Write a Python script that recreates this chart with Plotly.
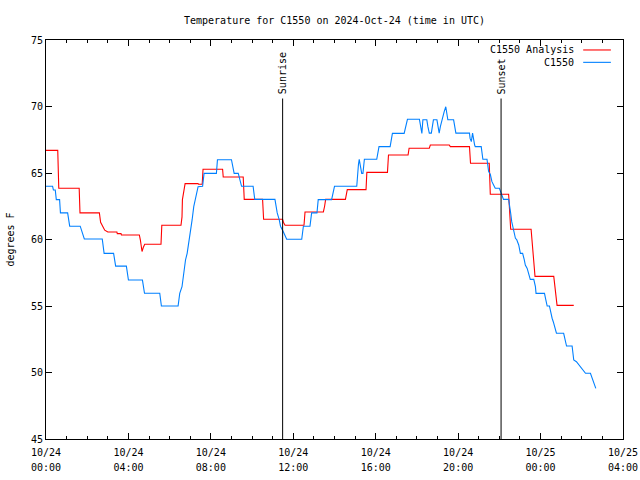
import pandas as pd
import plotly.graph_objects as go

# hours after 2024-10-24 00:00 UTC
analysis_hours = [0, 0.57, 0.62, 1.61, 1.65, 2.59, 2.65, 2.75, 2.85, 3.0, 3.44, 3.46, 3.64, 3.66,
                  4.53, 4.58, 4.62, 4.66, 4.72, 4.79, 5.58, 5.62, 6.55, 6.6, 6.62, 6.68, 6.75,
                  7.38, 7.4, 7.58, 7.62, 8.57, 8.6, 9.57, 9.62, 10.51, 10.56, 11.48, 11.52, 11.6,
                  12.52, 12.57, 13.46, 13.52, 13.57, 14.53, 14.56, 14.62, 15.53, 15.57, 16.57,
                  16.62, 17.57, 17.62, 18.6, 18.65, 19.57, 19.62, 20.55, 20.6, 21.51, 21.56,
                  22.45, 22.5, 22.55, 23.54, 23.62, 23.73, 24.64, 24.72, 24.8, 25.61]
analysis_temp = [66.7, 66.7, 63.85, 63.85, 62.0, 62.0, 61.3, 61.0, 60.7, 60.56, 60.56, 60.44, 60.44, 60.34,
                 60.34, 59.96, 59.46, 59.1, 59.4, 59.64, 59.64, 61.07, 61.07, 61.7, 63.0, 63.77, 64.2,
                 64.2, 64.15, 64.15, 65.28, 65.28, 64.7, 64.7, 63.02, 63.02, 61.52, 61.52, 61.3, 61.07,
                 61.07, 62.07, 62.07, 62.5, 63.02, 63.02, 63.42, 63.75, 63.75, 65.05, 65.05,
                 66.35, 66.35, 66.86, 66.86, 67.1, 67.1, 66.98, 66.98, 65.73, 65.73, 63.4,
                 63.4, 62.0, 60.77, 60.77, 59.0, 57.23, 57.23, 56.0, 55.05, 55.05]

obs_hours = [0, 0.32, 0.36, 0.45, 0.5, 0.66, 0.7, 1.05, 1.1, 1.15, 1.66, 1.75, 1.86, 2.73, 2.78, 2.82,
             3.28, 3.33, 3.38, 3.9, 3.95, 4.0, 4.68, 4.72, 4.78, 5.52, 5.56, 5.6, 6.41, 6.44, 6.49,
             6.6, 6.65, 6.77, 6.85, 6.93, 7.01, 7.09, 7.17, 7.25, 7.38, 7.6, 7.67, 8.27, 8.32, 9.0,
             9.05, 9.13, 9.33, 9.4, 9.49, 10.05, 10.13, 11.11, 11.16, 11.22, 11.32, 11.38, 11.51,
             11.68, 12.41, 12.49, 12.81, 12.89, 13.15, 13.21, 13.86, 13.93, 14.0, 15.08, 15.1,
             15.16, 15.2, 15.25, 15.32, 15.38, 15.45, 16.05, 16.1, 16.16, 16.7, 16.75, 16.81,
             17.38, 17.45, 17.54, 18.12, 18.18, 18.24, 18.29, 18.48, 18.53, 18.6, 18.7, 18.75,
             18.8, 18.97, 19.02, 19.08, 19.14, 19.21, 19.32, 19.4, 19.45, 19.5, 19.78, 19.84,
             19.89, 20.55, 20.58, 20.64, 20.7, 20.8, 20.83, 21.12, 21.16, 21.2, 21.4, 21.44,
             21.48, 21.56, 21.64, 21.72, 21.8, 22.0, 22.13, 22.2, 22.45, 22.5, 22.55, 22.6,
             22.69, 22.78, 22.84, 22.94, 23.02, 23.13, 23.21, 23.26, 23.35, 23.42, 23.5, 23.67,
             23.75, 23.78, 24.19, 24.25, 24.32, 24.43, 24.48, 24.56, 24.62, 24.69, 24.77, 25.12,
             25.2, 25.26, 25.53, 25.57, 25.61, 25.74, 25.85, 25.94, 26.05, 26.18, 26.42, 26.5,
             26.58, 26.68]
obs_temp = [64.0, 64.0, 63.72, 63.72, 63.0, 63.0, 62.0, 62.0, 61.5, 61.0, 61.0, 60.5, 60.04, 60.04, 59.5, 58.96,
            58.96, 58.5, 58.0, 58.0, 57.5, 56.95, 56.95, 56.5, 55.96, 55.96, 55.5, 55.0, 55.0, 55.45, 55.95,
            56.45, 57.2, 58.46, 58.96, 59.7, 60.47, 61.47, 62.47, 62.97, 63.97, 64.0, 64.97, 64.97, 66.0, 66.0,
            65.5, 64.97, 64.97, 64.47, 64.0, 64.0, 63.02, 63.02, 62.47, 62.0, 61.47, 61.0, 60.6,
            60.02, 60.02, 61.0, 61.0, 62.0, 62.0, 63.0, 63.0, 63.5, 64.0, 64.0, 64.6,
            65.6, 66.03, 65.5, 64.97, 64.97, 66.03, 66.03, 66.5, 66.98, 66.98, 67.5, 67.98,
            67.98, 68.5, 69.04, 69.04, 68.36, 67.98, 69.0, 69.0, 68.5, 68.0, 68.0, 68.5,
            69.0, 69.0, 68.5, 68.0, 68.5, 69.0, 69.6, 69.98, 69.5, 69.0, 69.0, 68.5,
            68.0, 68.0, 67.6, 67.36, 68.0, 67.1, 66.98, 66.98, 66.5, 66.03, 66.03, 65.5,
            65.1, 64.9, 64.35, 64.1, 63.85, 63.85, 63.35, 63.02, 63.02, 62.6, 61.97, 61.34,
            60.71, 60.09, 60.0, 59.59, 58.96, 58.96, 58.46, 58.08, 57.83, 57.33, 57.0, 57.0,
            56.45, 55.95, 55.95, 55.5, 55.0, 55.0, 54.57, 54.08, 53.8, 53.45, 52.95, 52.95,
            52.5, 51.99, 51.99, 51.4, 50.94, 50.81, 50.6, 50.44, 50.2, 49.94, 49.94, 49.56,
            49.19, 48.81]

event_names = ["Sunrise", "Sunset"]
event_times = ["2024-10-24 11:29", "2024-10-24 22:05"]
event_top = 70.6

y_ticks = [45, 50, 55, 60, 65, 70, 75]
x_start, x_end = "2024-10-24 00:00", "2024-10-25 04:00"

base = pd.Timestamp("2024-10-24 00:00")
t_an = base + pd.to_timedelta(analysis_hours, unit="h")
t_ob = base + pd.to_timedelta(obs_hours, unit="h")

FONT = "DejaVu Sans Mono"
RED = "#ff0000"
BLUE = "#0080ff"

fig = go.Figure()
fig.add_trace(go.Scatter(x=t_an, y=analysis_temp, mode="lines", name="C1550 Analysis",
                         line=dict(color=RED, width=1.1), showlegend=False))
fig.add_trace(go.Scatter(x=t_ob, y=obs_temp, mode="lines", name="C1550",
                         line=dict(color=BLUE, width=1.1), showlegend=False))
# invisible trace so the second (time-of-day label) axis is drawn
fig.add_trace(go.Scatter(x=[x_start, x_end], y=[45, 45], mode="lines", xaxis="x2",
                         line=dict(width=0), hoverinfo="skip", showlegend=False, opacity=0))

for name, t in zip(event_names, event_times):
    fig.add_shape(type="line", x0=t, x1=t, y0=45, y1=event_top, xref="x", yref="y",
                  line=dict(color="black", width=1))
    fig.add_annotation(x=t, y=event_top, xref="x", yref="y", text=name, textangle=-90,
                       showarrow=False, xanchor="center", yanchor="bottom", yshift=2,
                       font=dict(family=FONT, size=10, color="black"))

# legend (gnuplot style: text then sample line)
for i, (label, col) in enumerate([("C1550 Analysis", RED), ("C1550", BLUE)]):
    yp = 0.975 - i * 0.031
    fig.add_annotation(x=0.919, y=yp, xref="paper", yref="paper", text=label, showarrow=False,
                       xanchor="right", yanchor="middle", font=dict(family=FONT, size=10, color="black"))
    fig.add_shape(type="line", x0=0.931, x1=0.979, y0=yp, y1=yp, xref="paper", yref="paper",
                  line=dict(color=col, width=1.1))

fig.update_layout(
    width=640, height=480,
    margin=dict(l=46, r=17, t=40, b=41, autoexpand=False),
    paper_bgcolor="white", plot_bgcolor="white",
    font=dict(family=FONT, size=10, color="black"),
    title=dict(text="Temperature for C1550 on 2024-Oct-24 (time in UTC)", x=0.5, xref="paper",
               y=1 - 20 / 480, yref="container", xanchor="center", yanchor="middle",
               font=dict(family=FONT, size=10)),
    xaxis=dict(type="date", range=[x_start, x_end], tick0=x_start, dtick=4 * 3600 * 1000,
               tickformat="%m/%d", showgrid=False, zeroline=False, automargin=False,
               showline=True, linecolor="black", linewidth=1, mirror="ticks",
               ticks="inside", ticklen=6, tickcolor="black", ticklabelstandoff=4,
               minor=dict(dtick=3600 * 1000, ticks="inside", ticklen=3, tickcolor="black", showgrid=False),
               tickfont=dict(family=FONT, size=10)),
    xaxis2=dict(type="date", overlaying="x", matches="x", side="bottom", anchor="y",
                range=[x_start, x_end], tick0=x_start, dtick=4 * 3600 * 1000,
                tickformat="%H:%M", showgrid=False, zeroline=False, showline=False,
                automargin=False, ticks="", ticklabelstandoff=21,
                tickfont=dict(family=FONT, size=10)),
    yaxis=dict(range=[45, 75], tickvals=y_ticks, showgrid=False, zeroline=False, automargin=False,
               showline=True, linecolor="black", linewidth=1, mirror="ticks",
               ticks="inside", ticklen=6, tickcolor="black",
               title=dict(text="degrees F", font=dict(family=FONT, size=10), standoff=14),
               tickfont=dict(family=FONT, size=10)),
)

fig.write_html("out.html", config={"displayModeBar": False},
               post_script="document.body.style.margin='0';document.body.style.overflow='hidden';")
